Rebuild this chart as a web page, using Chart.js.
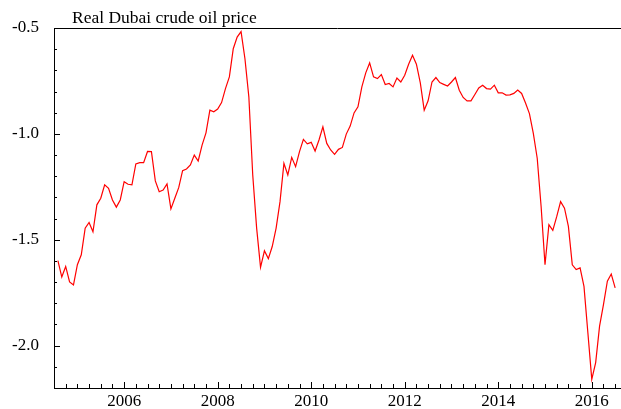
<!DOCTYPE html>
<html>
<head>
<meta charset="utf-8">
<script src="https://cdn.jsdelivr.net/npm/chart.js@4/dist/chart.umd.min.js"></script>
<style>
  html, body { margin: 0; padding: 0; background: #fff; }
  #wrap { position: relative; width: 621px; height: 409px; }
</style>
</head>
<body>
<div id="wrap"><canvas id="c" width="621" height="409"></canvas></div>
<script>
// ---- data ----
const chartTitle = "Real Dubai crude oil price";
const startYear = 2004;   // first observation: August 2004, monthly
const startMonth = 8;
const realPrice = [
  -1.599, -1.676, -1.626, -1.699, -1.713,
  -1.618, -1.571, -1.445, -1.418, -1.462, -1.335, -1.304, -1.241, -1.257, -1.312, -1.346, -1.312,
  -1.226, -1.238, -1.241, -1.142, -1.136, -1.136, -1.083, -1.084, -1.222, -1.273, -1.265, -1.236,
  -1.354, -1.304, -1.254, -1.174, -1.166, -1.147, -1.100, -1.128, -1.053, -0.995, -0.888, -0.896,
  -0.883, -0.852, -0.786, -0.731, -0.598, -0.543, -0.517, -0.645, -0.825, -1.194, -1.445, -1.630,
  -1.552, -1.589, -1.532, -1.445, -1.320, -1.139, -1.194, -1.111, -1.155, -1.084, -1.026, -1.047,
  -1.040, -1.081, -1.029, -0.967, -1.045, -1.076, -1.097, -1.073, -1.064, -1.001, -0.963, -0.901,
  -0.872, -0.778, -0.712, -0.665, -0.731, -0.739, -0.720, -0.767, -0.762, -0.778, -0.736, -0.755,
  -0.723, -0.671, -0.629, -0.671, -0.759, -0.888, -0.844, -0.755, -0.734, -0.758, -0.766, -0.774,
  -0.755, -0.734, -0.794, -0.828, -0.844, -0.844, -0.814, -0.783, -0.770, -0.786, -0.789, -0.770,
  -0.806, -0.806, -0.817, -0.816, -0.809, -0.793, -0.809, -0.854, -0.904, -0.998, -1.115, -1.343,
  -1.618, -1.429, -1.456, -1.391, -1.320, -1.351, -1.437, -1.618, -1.641, -1.633, -1.720, -1.939,
  -2.159, -2.080, -1.908, -1.806, -1.696, -1.662, -1.727
];
const xMin = 2004.5, xMax = 2016.625;
const yMin = -2.2, yMax = -0.5;
const xTickValues = [];
for (let q = 0; q <= 48; q++) xTickValues.push(2004.5 + q * 0.25);
const xLabelYears = [2006, 2008, 2010, 2012, 2014, 2016];
const yTickValues = [-2.2, -2.1, -2.0, -1.9, -1.8, -1.7, -1.6, -1.5, -1.4, -1.3, -1.2, -1.1, -1.0, -0.9, -0.8, -0.7, -0.6, -0.5];
const yLabelValues = [-2.0, -1.5, -1.0, -0.5];

const points = realPrice.map((v, i) => ({ x: startYear + (startMonth - 1 + i) / 12, y: v }));

const FONT = "'Liberation Serif', 'Times New Roman', serif";

const isIn = (arr, v) => arr.some(a => Math.abs(a - v) < 1e-6);

const framePlugin = {
  id: 'frame',
  afterDraw(chart) {
    const ctx = chart.ctx, a = chart.chartArea;
    const xs = chart.scales.x, ys = chart.scales.y;
    ctx.save();
    ctx.strokeStyle = '#000';
    ctx.lineWidth = 1;
    // top frame line
    ctx.beginPath();
    ctx.moveTo(a.left, Math.round(a.top) + 0.5);
    ctx.lineTo(a.right, Math.round(a.top) + 0.5);
    ctx.stroke();
    // inward ticks
    ctx.beginPath();
    xs.ticks.forEach(t => {
      const px = Math.round(xs.getPixelForValue(t.value)) + 0.5;
      const major = Number.isInteger(t.value) && t.value % 2 === 0;
      const len = major ? 6 : 4;
      ctx.moveTo(px, a.bottom);
      ctx.lineTo(px, a.bottom - len);
    });
    ys.ticks.forEach(t => {
      const py = Math.round(ys.getPixelForValue(t.value)) + 0.5;
      const major = isIn(yLabelValues, t.value);
      const len = major ? 6 : 3;
      ctx.moveTo(a.left, py);
      ctx.lineTo(a.left + len, py);
    });
    ctx.stroke();
    // title
    ctx.fillStyle = '#000';
    ctx.font = "17.5px " + FONT;
    ctx.textAlign = 'left';
    ctx.textBaseline = 'alphabetic';
    ctx.fillText(chartTitle, a.left + 18, 23);
    ctx.restore();
  }
};

new Chart(document.getElementById('c'), {
  type: 'line',
  data: {
    datasets: [{
      label: chartTitle,
      data: points,
      borderColor: '#ff0000',
      borderWidth: 1.2,
      pointRadius: 0,
      tension: 0,
      fill: false
    }]
  },
  options: {
    responsive: false,
    animation: false,
    layout: { padding: { top: 28, left: 0, right: 0, bottom: 0 } },
    plugins: { legend: { display: false }, tooltip: { enabled: false }, title: { display: false } },
    scales: {
      x: {
        type: 'linear',
        min: xMin, max: xMax,
        afterBuildTicks: s => { s.ticks = xTickValues.map(v => ({ value: v })); },
        afterFit: s => { s.height = 21; s.paddingLeft = 0; s.paddingRight = 0; },
        grid: { display: false, drawTicks: false },
        border: { display: true, color: '#000', width: 1 },
        ticks: {
          autoSkip: false, maxRotation: 0, padding: 3,
          color: '#000',
          font: { family: FONT, size: 17 },
          callback: v => (isIn(xLabelYears, v) ? String(Math.round(v)) : '')
        }
      },
      y: {
        type: 'linear',
        min: yMin, max: yMax,
        afterBuildTicks: s => { s.ticks = yTickValues.map(v => ({ value: v })); },
        afterFit: s => { s.width = 54; s.paddingTop = 0; s.paddingBottom = 0; },
        grid: { display: false, drawTicks: false },
        border: { display: true, color: '#000', width: 1 },
        ticks: {
          autoSkip: false, padding: 15,
          color: '#000',
          font: { family: FONT, size: 17 },
          callback: v => (isIn(yLabelValues, v) ? v.toFixed(1) : '')
        }
      }
    }
  },
  plugins: [framePlugin]
});
</script>
</body>
</html>
